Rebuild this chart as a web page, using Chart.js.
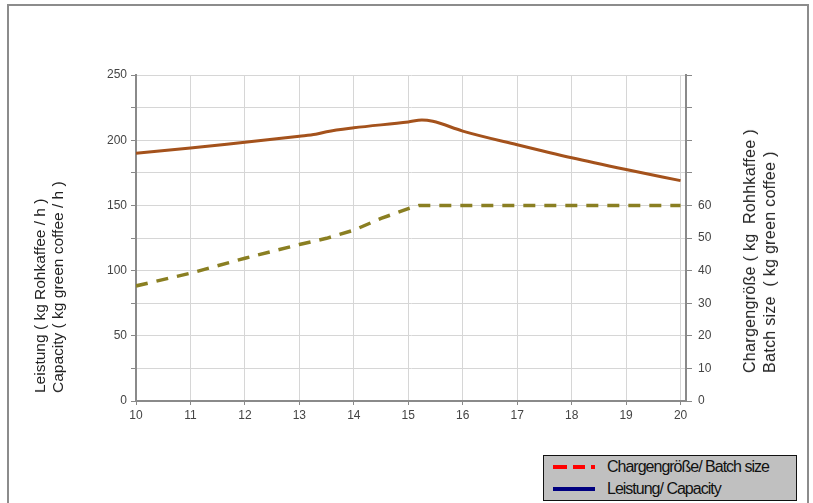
<!DOCTYPE html>
<html>
<head>
<meta charset="utf-8">
<script src="https://cdn.jsdelivr.net/npm/chart.js@4.4.1/dist/chart.umd.min.js"></script>
<style>
  html, body { margin: 0; padding: 0; background: #fff; }
  body { width: 813px; height: 503px; position: relative; overflow: hidden; font-family: "Liberation Sans", Arial, sans-serif; }
  #frame { position: absolute; left: 7px; top: 4px; width: 798px; height: 520px; border: 2px solid #8c8c8c; }
  #chart { position: absolute; left: 0; top: 0; }
  .vtitle { position: absolute; writing-mode: vertical-rl; transform: rotate(180deg); color: #222; white-space: nowrap; text-align: start; }
  #ltitle { left: 31px; top: 100px; height: 293px; font-size: 15.5px; line-height: 18px; }
  #rtitle { left: 740px; top: 100px; height: 273px; font-size: 16px; line-height: 20px; letter-spacing: 0.3px; }
  #legend { position: absolute; left: 543px; top: 455px; width: 254px; height: 46px; background: #c0c0c0; border: 1.5px solid #111; box-sizing: border-box; font-size: 16px; letter-spacing: -1px; color: #111; }
  .row { position: absolute; left: 0; height: 20px; line-height: 20px; }
  .sample { position: absolute; left: 9px; width: 42px; top: 7px; }
  .txt { position: absolute; left: 63px; white-space: nowrap; }
</style>
</head>
<body>
<div id="frame"></div>
<canvas id="chart" width="813" height="503"></canvas>
<div id="ltitle" class="vtitle">Leistung ( kg Rohkaffee / h )<br>Capacity ( kg green coffee / h )</div>
<div id="rtitle" class="vtitle">Chargengröße ( kg&nbsp; Rohhkaffee )<br>Batch size&nbsp; ( kg green coffee )</div>
<div id="legend">
  <div class="row" style="top:1px"><svg class="sample" height="6"><line x1="0" y1="3" x2="42" y2="3" stroke="#ff0000" stroke-width="4" stroke-dasharray="14,6,12,6,4,6"/></svg><span class="txt">Chargengröße/ Batch size</span></div>
  <div class="row" style="top:23px"><svg class="sample" height="6"><line x1="0" y1="3" x2="42" y2="3" stroke="#000080" stroke-width="4"/></svg><span class="txt">Leistung/ Capacity</span></div>
</div>
<script>
// Capacity (left axis, kg/h)
const capacityX = [10, 11, 12, 13, 13.3, 13.5, 14, 15, 15.25, 15.45, 16, 17, 18, 19, 20];
const capacityY = [190, 194, 198.5, 203, 204.5, 206.5, 209.5, 214, 215.5, 214.5, 207, 196.5, 186.5, 177.5, 169];

// Batch size (right axis, kg)
const batchX = [10, 11, 12, 13, 13.5, 14, 14.5, 15, 15.2, 16, 17, 18, 19, 20];
const batchY = [35.3, 39.2, 43.8, 48, 49.9, 52.4, 56, 59, 60, 60, 60, 60, 60, 60];

const xTicks = [10, 11, 12, 13, 14, 15, 16, 17, 18, 19, 20];

function toPoints(xs, ys) {
    return xs.map((x, i) => ({ x: x, y: ys[i] }));
}

const tickFont = { family: 'Liberation Sans', size: 12 };

new Chart(document.getElementById('chart').getContext('2d'), {
    type: 'line',
    data: {
        datasets: [
            {
                label: 'Leistung/ Capacity',
                data: toPoints(capacityX, capacityY),
                borderColor: '#a4521c',
                borderWidth: 3,
                pointRadius: 0,
                cubicInterpolationMode: 'monotone',
                yAxisID: 'y'
            },
            {
                label: 'Chargengröße/ Batch size',
                data: toPoints(batchX, batchY),
                borderColor: '#8a7f22',
                borderWidth: 3.5,
                borderDash: [12, 9],
                pointRadius: 0,
                yAxisID: 'y2'
            }
        ]
    },
    options: {
        responsive: false,
        animation: false,
        devicePixelRatio: 1,
        layout: { padding: { top: 75, left: 0, right: 0, bottom: 0 } },
        plugins: { legend: { display: false }, tooltip: { enabled: false } },
        scales: {
            x: {
                type: 'linear',
                min: 10,
                max: 20.1,
                afterFit: s => { s.height = 102; },
                afterBuildTicks: s => { s.ticks = xTicks.map(v => ({ value: v })); },
                ticks: { font: tickFont, color: '#444', padding: 3, maxRotation: 0 },
                grid: { color: '#d6d6d6', lineWidth: 1, tickLength: 4, tickColor: '#888' },
                border: { color: '#8a8a8a', width: 2 }
            },
            y: {
                position: 'left',
                min: 0,
                max: 250,
                afterFit: s => { s.width = 136; },
                ticks: {
                    stepSize: 25,
                    font: tickFont,
                    color: '#444',
                    padding: 4,
                    callback: v => (v % 50 === 0 ? v : '')
                },
                grid: { color: '#d6d6d6', lineWidth: 1, tickLength: 5, tickColor: '#888' },
                border: { color: '#8a8a8a', width: 2 }
            },
            y2: {
                position: 'right',
                min: 0,
                max: 100,
                afterFit: s => { s.width = 127; },
                ticks: {
                    stepSize: 10,
                    font: tickFont,
                    color: '#444',
                    padding: 6,
                    callback: v => (v <= 60 ? v : '')
                },
                grid: { drawOnChartArea: false, tickLength: 6, tickColor: '#888' },
                border: { color: '#8a8a8a', width: 2 }
            }
        }
    }
});
</script>
</body>
</html>
